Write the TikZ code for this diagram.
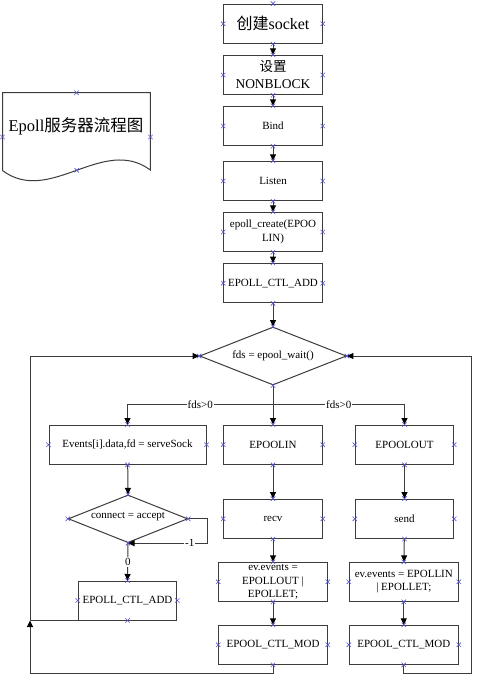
\documentclass[tikz,border=0pt]{standalone}
\usepackage{fontspec}
\setmainfont{Liberation Serif}
\newfontfamily\cjk{Noto Sans CJK SC}
\usetikzlibrary{shapes.geometric,arrows.meta}
\definecolor{ln}{RGB}{60,60,60}
\definecolor{xc}{RGB}{85,85,205}
\begin{document}
\begin{tikzpicture}[x=1pt,y=-1pt,
  box/.style={draw=ln,line width=1pt,rectangle,inner sep=0pt,minimum width=98.6pt,minimum height=39.4pt,align=center,font=\fontsize{11}{13.3}\selectfont},
  dia/.style={draw=ln,line width=1pt,diamond,shape aspect=2.5,inner sep=0pt,align=center,font=\fontsize{11}{13.3}\selectfont},
  arr/.style={draw=ln,line width=1pt,-{Triangle[length=6.5pt,width=6pt,color=black]}},
  lbl/.style={fill=white,inner sep=1pt,font=\fontsize{11}{13}\selectfont},
  xm/.style={draw=xc,line width=0.6pt}
]
\useasboundingbox (0,0) rectangle (500,679);
\fill[white] (0,0) rectangle (500,679);

% document shape
\node[inner sep=0pt,minimum width=147.6pt,minimum height=88pt] (doc) at (76.5,137) {};
\draw[ln,line width=1pt] (2.7,170.7) -- (2.7,92.7) -- (150.3,92.7) -- (150.3,170)
  .. controls (103,135) and (50,205.7) .. (2.7,170.7);
\node[font=\fontsize{16.5}{18}\selectfont] (doctxt) at (76,126) {Epoll{\cjk 服务器流程图}};
\coordinate (docb) at (76.7,170.3);

% main column
\node[box,font=\fontsize{16}{18}\selectfont] (b1) at (273,23.8) {{\cjk 创建}socket};
\node[box,font=\fontsize{13.5}{17}\selectfont] (b2) at (273,75) {{\cjk 设置}\\NONBLOCK};
\node[box] (b3) at (273,126) {Bind};
\node[box] (b4) at (273,181) {Listen};
\node[box] (b5) at (273,232) {epoll\_create(EPOO\\LIN)};
\node[box] (b6) at (273,283.2) {EPOLL\_CTL\_ADD};
\node[dia,minimum width=146.7pt,minimum height=58pt] (d1) at (273,356) {fds = epool\_wait()};

% branches
\node[box,minimum width=157pt,minimum height=39.3pt] (ev) at (127.5,444.7) {Events[i].data,fd = serveSock};
\node[box,minimum height=39.3pt] (in) at (273,444.7) {EPOOLIN};
\node[box,minimum width=98.4pt,minimum height=39.3pt] (out) at (404.5,444.7) {EPOOLOUT};
\node[box] (recv) at (273,518.8) {recv};
\node[box,minimum width=98.4pt] (send) at (404.5,518.8) {send};
\node[dia,minimum width=119.4pt,minimum height=47.7pt] (cd) at (128,518.8) {\raisebox{6pt}{connect = accept}};
\node[box,minimum width=98.4pt,minimum height=39pt] (addl) at (127.5,600.5) {EPOLL\_CTL\_ADD};
\node[box,minimum width=108.6pt,minimum height=39pt] (evl) at (273,581.8) {ev.events =\\EPOLLOUT |\\EPOLLET;};
\node[box,minimum width=109pt,minimum height=39pt] (evr) at (403.8,581.8) {ev.events = EPOLLIN\\| EPOLLET;};
\node[box,minimum width=108.6pt,minimum height=39pt] (modl) at (273,644.8) {EPOOL\_CTL\_MOD};
\node[box,minimum width=109pt,minimum height=39pt] (modr) at (403.8,644.8) {EPOOL\_CTL\_MOD};

% coordinates
\coordinate (jn) at (273,404.3);
\coordinate (lc) at (30,356);
\coordinate (lb) at (30,673);
\coordinate (rc) at (471,356);
\coordinate (rb) at (471,673);

% connectors
\draw[arr] (b1) -- (b2);
\draw[arr] (b2) -- (b3);
\draw[arr] (b3) -- (b4);
\draw[arr] (b4) -- (b5);
\draw[arr] (b5) -- (b6);
\draw[arr] (b6) -- (d1);
\draw[arr] (d1.south) -- (in.north);
\draw[arr] (jn) -| node[lbl,pos=0.25]{fds>0} (ev.north);
\draw[arr] (jn) -| node[lbl,pos=0.25]{fds>0} (out.north);
\draw[arr] (in) -- (recv);
\draw[arr] (out) -- (send);
\draw[arr] (ev) -- (cd.north);
\draw[arr] (cd.east) -- ++(19,0) |- node[lbl,pos=0.61]{-1} (cd.south);
\draw[arr] (cd.south) -- node[lbl]{0} (addl.north);
\draw[arr] (recv) -- (evl);
\draw[arr] (send) -- (evr);
\draw[arr] (evl) -- (modl);
\draw[arr] (evr) -- (modr);
\draw[arr] (addl.south) -| (lc) -- (d1.west);
\draw[arr] (modl.south) |- (lb) -- (addl.south -| lb);
\draw[arr] (modr.south) |- (rb) -- (rc) -- (d1.east);

% connection-point crosses
\foreach \n in {b1,b2,b3,b4,b5,b6,d1,ev,in,out,recv,send,cd,addl,evl,evr,modl,modr}
  \foreach \a in {north,south,east,west}
    \draw[xm] (\n.\a) ++(-2.2,-2.2) -- ++(4.4,4.4) (\n.\a) ++(2.2,-2.2) -- ++(-4.4,4.4);
\foreach \p in {doc.north,doc.east,doc.west,docb}
  \draw[xm] (\p) ++(-2.2,-2.2) -- ++(4.4,4.4) (\p) ++(2.2,-2.2) -- ++(-4.4,4.4);
\end{tikzpicture}
\end{document}
